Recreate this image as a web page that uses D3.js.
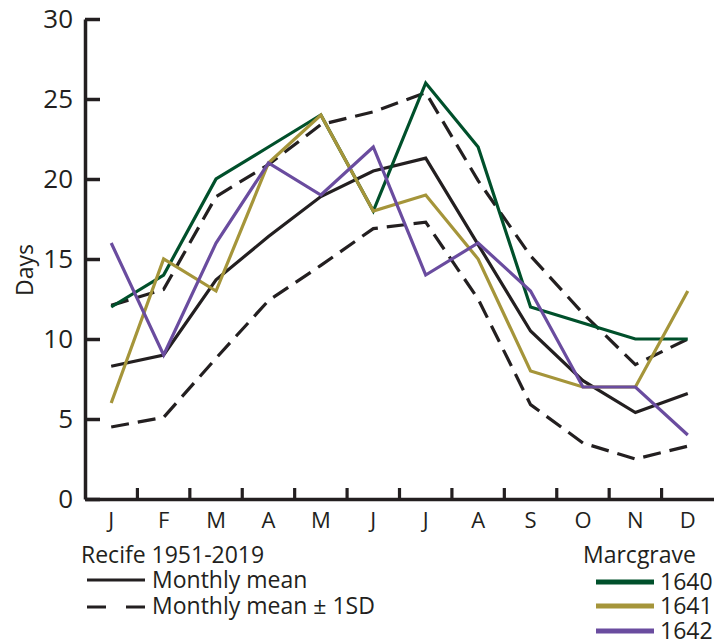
<!DOCTYPE html>
<html>
<head>
<meta charset="utf-8">
<script src="https://cdn.jsdelivr.net/npm/d3@7"></script>
<style>
  body { margin: 0; background: #fff; }
  svg text { font-family: "Open Sans", sans-serif; fill: #231f20; }
</style>
</head>
<body>
<div id="chart"></div>
<script>
const width = 714;
const height = 643;

// data (days per month)
const monthLabels = ["J", "F", "M", "A", "M", "J", "J", "A", "S", "O", "N", "D"];
const yTicks = [0, 5, 10, 15, 20, 25, 30];

const recifeMean = [8.3, 9.0, 13.7, 16.4, 18.9, 20.5, 21.3, 15.9, 10.5, 7.4, 5.4, 6.6];
const recifeUpper = [12.1, 13.1, 18.9, 20.9, 23.4, 24.2, 25.4, 19.9, 15.2, 11.6, 8.4, 10.0];
const recifeLower = [4.5, 5.1, 8.8, 12.4, 14.6, 16.9, 17.3, 12.5, 5.9, 3.5, 2.5, 3.3];

const y1640 = [12, 14, 20, 22, 24, 18, 26, 22, 12, 11, 10, 10];
const y1641 = [6, 15, 13, 21, 24, 18, 19, 15, 8, 7, 7, 13];
const y1642 = [16, 9, 16, 21, 19, 22, 14, 16, 13, 7, 7, 4];

const ink = "#231f20";
const colors = { "1640": "#00502b", "1641": "#a5953a", "1642": "#6a4c9f" };

const svg = d3.select("#chart")
    .append("svg")
    .attr("width", width)
    .attr("height", height);

const x = d3.scaleBand()
    .domain(d3.range(monthLabels.length))
    .range([85, 714]);

const y = d3.scaleLinear()
    .domain([0, 30])
    .range([499, 19]);

const line = d3.line()
    .x((d, i) => x(i) + x.bandwidth() / 2)
    .y(d => y(d));

// axes
const yAxis = svg.append("g")
    .attr("transform", "translate(85,0)")
    .call(d3.axisLeft(y).tickValues(yTicks).tickSizeInner(-15).tickSizeOuter(0).tickPadding(12));
yAxis.selectAll("path, line").attr("stroke", ink).attr("stroke-width", 3.5);
yAxis.selectAll("text").attr("font-size", 26).attr("fill", ink);

const xAxis = svg.append("g")
    .attr("transform", "translate(0,499)")
    .call(d3.axisBottom(x).tickFormat(i => monthLabels[i]).tickSize(0).tickPadding(13));
xAxis.select(".domain").attr("stroke", ink).attr("stroke-width", 3.5);
xAxis.selectAll("text").attr("font-size", 22).attr("fill", ink);

// small ticks between months
svg.append("g")
    .selectAll("line")
    .data(d3.range(1, monthLabels.length))
    .enter()
    .append("line")
    .attr("x1", i => x(i))
    .attr("x2", i => x(i))
    .attr("y1", 499)
    .attr("y2", 488)
    .attr("stroke", ink)
    .attr("stroke-width", 3.2);

svg.append("text")
    .attr("transform", "translate(33,270) rotate(-90)")
    .attr("text-anchor", "middle")
    .attr("font-size", 23)
    .text("Days");

// lines
const series = [
    { values: recifeUpper, color: ink, dash: "18,9" },
    { values: recifeLower, color: ink, dash: "18,9" },
    { values: recifeMean, color: ink, dash: null },
    { values: y1640, color: colors["1640"], dash: null },
    { values: y1641, color: colors["1641"], dash: null },
    { values: y1642, color: colors["1642"], dash: null }
];

svg.append("g")
    .selectAll("path")
    .data(series)
    .enter()
    .append("path")
    .attr("d", d => line(d.values))
    .attr("fill", "none")
    .attr("stroke", d => d.color)
    .attr("stroke-width", 3.2)
    .attr("stroke-linejoin", "miter")
    .attr("stroke-dasharray", d => d.dash);

// legend, left
const legL = svg.append("g");
legL.append("text").attr("x", 81).attr("y", 563).attr("font-size", 23).text("Recife 1951-2019");
legL.append("line").attr("x1", 87).attr("x2", 145).attr("y1", 580).attr("y2", 580)
    .attr("stroke", ink).attr("stroke-width", 3.2);
legL.append("text").attr("x", 152).attr("y", 588).attr("font-size", 23).text("Monthly mean");
legL.append("line").attr("x1", 87).attr("x2", 145).attr("y1", 607).attr("y2", 607)
    .attr("stroke", ink).attr("stroke-width", 3.2).attr("stroke-dasharray", "19,20");
legL.append("text").attr("x", 152).attr("y", 614).attr("font-size", 23).text("Monthly mean ± 1SD");

// legend, right
const years = ["1640", "1641", "1642"];
const legY = [590, 614, 639];
const legR = svg.append("g");
legR.append("text").attr("x", 583).attr("y", 563).attr("font-size", 23).text("Marcgrave");
years.forEach((yr, i) => {
    legR.append("line").attr("x1", 596).attr("x2", 654)
        .attr("y1", legY[i] - 8).attr("y2", legY[i] - 8)
        .attr("stroke", colors[yr]).attr("stroke-width", 5);
    legR.append("text").attr("x", 660).attr("y", legY[i]).attr("font-size", 23).text(yr);
});
</script>
</body>
</html>
